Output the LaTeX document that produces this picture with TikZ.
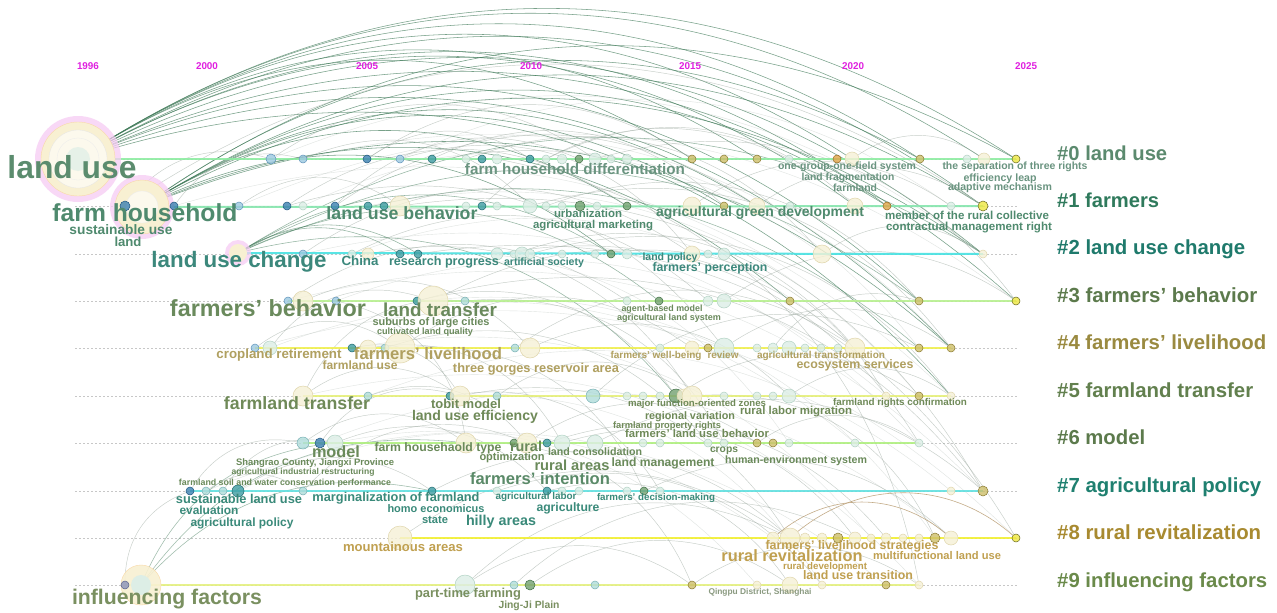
\documentclass[tikz,border=0pt]{standalone}
\usepackage{fontspec}
\setmainfont{Liberation Sans}
\usepackage{graphicx}
\pgfdeclarelayer{bg}
\pgfdeclarelayer{arcs}
\pgfdeclarelayer{rows}
\pgfsetlayers{bg,arcs,rows,main}
\newcommand{\tw}[2]{\resizebox{#1pt}{!}{\vphantom{Ag}#2}}
% dot colours
\definecolor{fLB}{HTML}{9CC8E0}\definecolor{dLB}{HTML}{5E92BA}
\definecolor{fB}{HTML}{3A80B0}\definecolor{dB}{HTML}{1F5680}
\definecolor{fT}{HTML}{3E9CA2}\definecolor{dT}{HTML}{1E6A70}
\definecolor{fLT}{HTML}{B0DCDA}\definecolor{dLT}{HTML}{78B0B4}
\definecolor{fL}{HTML}{DDEEE6}\definecolor{dL}{HTML}{B2D2C4}
\definecolor{fY}{HTML}{F6F1D6}\definecolor{dY}{HTML}{E0D6AC}
\definecolor{fO}{HTML}{CDBE6A}\definecolor{dO}{HTML}{8A7A30}
\definecolor{fG}{HTML}{72A070}\definecolor{dG}{HTML}{3E6E44}
\definecolor{fE}{HTML}{EEE640}\definecolor{dE}{HTML}{6A6A20}
\definecolor{fR}{HTML}{E0A448}\definecolor{dR}{HTML}{9A6A22}
\definecolor{fGB}{HTML}{8890B8}\definecolor{dGB}{HTML}{58608A}
% row line colours
\definecolor{l0}{HTML}{8EEDA2}\definecolor{l1}{HTML}{86E6AE}
\definecolor{l2}{HTML}{46E2E2}\definecolor{l3}{HTML}{B8F090}
\definecolor{l4}{HTML}{F0F050}\definecolor{l5}{HTML}{E6F07A}
\definecolor{l6}{HTML}{B0F080}\definecolor{l7}{HTML}{62E0E0}
\definecolor{l8}{HTML}{F2F032}\definecolor{l9}{HTML}{E4F080}
% cluster label colours
\definecolor{c0}{HTML}{5B8A6E}\definecolor{c1}{HTML}{2F7A5C}
\definecolor{c2}{HTML}{1F7A6C}\definecolor{c3}{HTML}{5C7A4C}
\definecolor{c4}{HTML}{9A8A40}\definecolor{c5}{HTML}{62804E}
\definecolor{c6}{HTML}{5C7A4C}\definecolor{c7}{HTML}{1F8070}
\definecolor{c8}{HTML}{A88A30}\definecolor{c9}{HTML}{6A8A4A}
% text colours
\definecolor{t0}{HTML}{6A9480}\definecolor{t0b}{HTML}{5B8C6E}
\definecolor{t1}{HTML}{4F8A6E}\definecolor{t2}{HTML}{3C887C}
\definecolor{t3}{HTML}{6A8A5C}\definecolor{t4}{HTML}{B0A060}
\definecolor{t5}{HTML}{6F8A58}\definecolor{t6}{HTML}{6A8A5A}
\definecolor{t7}{HTML}{3A8A7A}\definecolor{t7b}{HTML}{5A8A68}
\definecolor{t8}{HTML}{C0A050}\definecolor{t9}{HTML}{7A9060}
\definecolor{t9b}{HTML}{8A9A80}
\definecolor{yr}{HTML}{E020E0}
\definecolor{pinkr}{HTML}{F6CCF4}\definecolor{yelb}{HTML}{F8F0D2}
\definecolor{arcg}{HTML}{98A69C}\definecolor{arcd}{HTML}{3F7A58}
\definecolor{arcb}{HTML}{B09060}
\begin{document}
\begin{tikzpicture}[x=1pt,y=-1pt,
  dot/.style={circle,inner sep=0pt,line width=0.5pt,fill opacity=0.8},
  lbl/.style={inner sep=0pt,font=\bfseries},
  clbl/.style={inner sep=0pt,anchor=west,font=\bfseries},
  ylbl/.style={inner sep=0pt,font=\bfseries,text=yr},
  garc/.style={draw=arcg,line width=0.45pt,opacity=0.55},
  farc/.style={draw=arcg,line width=0.4pt,opacity=0.3},
  darc/.style={draw=arcd,line width=0.55pt,opacity=0.7},
  barc/.style={draw=arcb,line width=0.6pt,opacity=0.75},
  rowline/.style={line width=2pt,opacity=0.9},
  dashrow/.style={draw=black!22,line width=0.4pt,dash pattern=on 2pt off 2pt}]
\useasboundingbox (0,0) rectangle (1277,613);
\clip (0,0) rectangle (1277,613);
\begin{pgfonlayer}{bg}
\fill[white] (0,0) rectangle (1277,613);
\end{pgfonlayer}

% ---------- big bubbles ----------
\node[circle,inner sep=0,minimum size=86,fill=pinkr,fill opacity=0.75] (bubLU) at (78,159) {};
\node[circle,inner sep=0,minimum size=74,fill=yelb,draw=yelb!80!orange,line width=0.4pt] (bubLU2) at (78,159) {};
\node[circle,inner sep=0,minimum size=58,fill=white!60!yelb,draw=black!10,line width=0.3pt] (bubLU3) at (78,159) {};
\node[circle,inner sep=0,minimum size=42,draw=black!8,line width=0.3pt] (bubLU4) at (78,159) {};
\node[circle,inner sep=0,minimum size=24,fill=fL,fill opacity=0.7] (bubLU5) at (78,159) {};
\coordinate (lu) at (78,159);

\node[circle,inner sep=0,minimum size=64,fill=pinkr,fill opacity=0.75] (bubFH) at (142,207) {};
\node[circle,inner sep=0,minimum size=54,fill=yelb,draw=yelb!80!orange,line width=0.4pt] (bubFH2) at (142,207) {};
\node[circle,inner sep=0,minimum size=32,fill=white!60!yelb,draw=black!8,line width=0.3pt] (bubFH3) at (142,207) {};
\coordinate (fh) at (142,207);

\node[circle,inner sep=0,minimum size=26,fill=pinkr,fill opacity=0.75] (bubLUC) at (238,253) {};
\node[circle,inner sep=0,minimum size=18,fill=yelb] (bubLUC2) at (238,253) {};
\coordinate (luc) at (238,253);

\node[circle,inner sep=0,minimum size=40,fill=yelb,draw=yelb!80!orange,line width=0.4pt,fill opacity=0.9] (bubIF) at (141,585) {};
\node[circle,inner sep=0,minimum size=20,fill=fL] (bubIF2) at (141,585) {};
\coordinate (inf) at (141,585);

% ---------- dots ----------
\foreach \x/\rad/\s in {271/5/LB,303/4/LB,367/4/B,400/4/LB,432/4/T,466/4/L,482/4/T,497/5/L,530/4/T,546/4/L,562/5/L,579/4/G,595/6/L,611/4/L,627/5/L,692/4/O,724/4/O,757/4/O,789/4/L,837/4/R,852/7/Y,920/4/O,967/4/L,984/6/Y,1016/4/E}
  \node[dot,fill=f\s,draw=d\s,minimum size=2*\rad] (r0x\x) at (\x,159) {};
\foreach \x/\rad/\s in {125/5/B,174/4/B,239/4/LB,287/4/B,303/4/L,335/4/B,368/4/T,384/4/T,400/10/Y,466/4/L,482/4/T,497/4/L,530/7/L,546/4/L,562/4/L,580/5/G,597/4/L,627/4/G,692/9/Y,724/4/O,757/8/Y,790/4/L,855/8/Y,887/4/R,951/4/L,983/5/E}
  \node[dot,fill=f\s,draw=d\s,minimum size=2*\rad] (r1x\x) at (\x,206) {};
\foreach \x/\rad/\s in {303/4/LB,352/4/L,368/6/Y,400/4/T,418/4/T,497/6/L,514/4/L,522/7/L,530/5/L,562/4/L,595/4/L,611/4/G,627/5/L,692/8/Y,708/4/L,724/6/L,822/9/Y,983/4/Y}
  \node[dot,fill=f\s,draw=d\s,minimum size=2*\rad] (r2x\x) at (\x,254) {};
\foreach \x/\rad/\s in {288/4/LB,303/10/Y,336/4/LB,417/4/T,433/15/Y,465/4/LT,627/4/L,659/4/G,708/5/L,724/7/L,790/4/O,919/4/O,1016/4/E}
  \node[dot,fill=f\s,draw=d\s,minimum size=2*\rad] (r3x\x) at (\x,301) {};
\foreach \x/\rad/\s in {255/4/LB,270/7/L,352/4/T,368/8/Y,385/4/LT,400/15/Y,515/4/LT,530/10/Y,660/4/L,692/7/Y,708/4/O,724/10/L,757/4/L,773/5/L,789/7/L,805/4/L,821/4/L,838/4/L,855/10/Y,919/4/O,951/4/O}
  \node[dot,fill=f\s,draw=d\s,minimum size=2*\rad] (r4x\x) at (\x,348) {};
\foreach \x/\rad/\s in {303/10/Y,368/4/LT,450/4/T,460/10/Y,497/4/LT,593/7/LT,627/4/L,643/4/L,660/4/L,676/7/G,684/7/Y,692/10/Y,724/4/L,757/4/L,773/4/L,789/7/L,886/4/Y,919/4/O,951/4/Y}
  \node[dot,fill=f\s,draw=d\s,minimum size=2*\rad] (r5x\x) at (\x,396) {};
\foreach \x/\rad/\s in {303/6/LT,320/5/B,335/8/L,466/10/Y,514/4/G,527/10/Y,547/4/T,562/8/L,595/8/L,643/4/L,660/4/L,708/4/L,724/4/L,757/4/O,773/4/O,789/4/L,855/4/L,919/4/L}
  \node[dot,fill=f\s,draw=d\s,minimum size=2*\rad] (r6x\x) at (\x,443) {};
\foreach \x/\rad/\s in {190/4/B,206/4/LT,223/4/LT,238/6/T,303/4/LT,432/4/T,497/4/L,547/4/T,562/4/L,579/4/L,627/4/L,644/4/G,660/4/L,951/4/Y,983/5/O}
  \node[dot,fill=f\s,draw=d\s,minimum size=2*\rad] (r7x\x) at (\x,491) {};
\foreach \x/\rad/\s in {400/12/Y,773/6/Y,790/10/Y,805/5/Y,822/5/Y,838/5/O,855/6/Y,871/4/Y,886/5/Y,903/4/Y,919/4/Y,935/5/O,951/7/Y,1016/4/E}
  \node[dot,fill=f\s,draw=d\s,minimum size=2*\rad] (r8x\x) at (\x,538) {};
\foreach \x/\rad/\s in {125/4/GB,465/10/L,514/4/LT,530/5/G,595/4/LT,692/4/O,757/4/Y,790/8/Y,822/4/Y,886/4/O,919/4/Y}
  \node[dot,fill=f\s,draw=d\s,minimum size=2*\rad] (r9x\x) at (\x,585) {};

% ---------- dashed guides ----------
\begin{pgfonlayer}{bg}
\foreach \yy [count=\i from 0] in {159,206,254,301,348,396,443,491,538,585} {
  \coordinate (dsA\i) at (75,\yy);
  \coordinate (dsB\i) at (1018,\yy);
  \draw[dashrow] (dsA\i) -- (dsB\i);
}
\end{pgfonlayer}

% ---------- row lines ----------
\begin{pgfonlayer}{rows}
\draw[rowline,draw=l0] (lu) -- (r0x1016.center);
\draw[rowline,draw=l1] (fh) -- (r1x983.center);
\draw[rowline,draw=l2] (luc) -- (r2x983.center);
\draw[rowline,draw=l3] (r3x288.center) -- (r3x1016.center);
\draw[rowline,draw=l4] (r4x255.center) -- (r4x951.center);
\draw[rowline,draw=l5] (r5x303.center) -- (r5x951.center);
\draw[rowline,draw=l6] (r6x303.center) -- (r6x919.center);
\draw[rowline,draw=l7] (r7x190.center) -- (r7x983.center);
\draw[rowline,draw=l8] (r8x400.center) -- (r8x1016.center);
\draw[rowline,draw=l9] (r9x125.center) -- (r9x919.center);
\end{pgfonlayer}

% ---------- arcs ----------
\begin{pgfonlayer}{arcs}
\foreach \b in {r0x1016,r0x984,r0x920,r0x852,r1x983,r1x887,r1x855,r3x1016,r2x983,r4x951,r0x757,r0x692,r5x951,r3x919}
  \draw[darc] (lu) to[bend left=33] (\b);
\foreach \b in {r1x627,r1x724,r1x887,r1x983,r0x1016,r2x611,r4x951,r3x790,r2x983,r0x920,r1x757}
  \draw[darc] (fh) to[bend left=32] (\b);
\foreach \b in {r2x400,r2x418,r2x611,r3x659,r5x676,r2x983,r3x919,r4x919}
  \draw[darc,opacity=0.55] (luc) to[bend left=32] (\b);
\foreach \b in {r6x466,r7x432,r6x335}
  \draw[darc,opacity=0.5] (inf) to[bend left=30] (\b);
\foreach \a/\b in {r1x125/r0x271,r1x174/r0x303,r1x239/r1x400,r0x271/r0x595,r0x303/r1x530,r0x367/r0x692,r0x400/r2x692,r1x287/r4x724,r1x335/r1x757,r2x303/r2x692,r2x352/r3x708,r2x368/r5x692,r3x288/r3x627,r3x303/r4x530,r3x336/r6x466,r3x417/r5x676,r3x433/r4x855,r3x465/r6x724,r4x255/r4x400,r4x270/r3x433,r4x352/r5x460,r4x368/r6x562,r4x400/r4x692,r4x400/r7x644,r4x515/r4x855,r4x530/r5x789,r5x303/r5x460,r5x303/r3x465,r5x368/r6x527,r5x460/r8x790,r5x497/r5x692,r5x593/r4x919,r5x676/r5x919,r5x692/r8x935,r6x303/r6x466,r6x320/r5x460,r6x335/r7x547,r6x466/r9x692,r6x527/r6x757,r6x562/r8x855,r6x595/r7x983,r7x190/r6x303,r7x238/r7x432,r7x303/r6x527,r7x432/r8x790,r7x547/r9x790,r7x644/r8x951,r8x400/r8x790,r9x465/r8x790,r9x465/r9x692,r9x514/r8x855,r9x530/r9x790,r9x692/r9x919,r6x757/r6x919,r5x789/r5x951,r4x724/r4x951,r1x757/r1x983,r0x852/r0x984,r1x692/r1x951,r2x822/r2x983,r3x724/r3x1016,r4x773/r3x919,r0x595/r3x1016,r1x530/r4x951,r2x530/r5x951,r1x400/r7x983,r2x497/r6x919,r0x497/r9x919,r2x418/r8x1016,r3x417/r7x983,r1x125/r1x983,r0x466/r2x822,r0x546/r1x855,r1x546/r3x919,r2x514/r4x855,r2x595/r5x886,r4x385/r6x708,r5x450/r7x660,r6x547/r8x886,r7x497/r9x822,r7x206/r7x303,r7x223/r6x335,r9x125/r7x190,r1x287/r1x627,r1x335/r0x579,r0x367/r0x530,r0x432/r1x724,r1x482/r0x789}
  \draw[garc] (\a) to[bend left=34] (\b);
\foreach \a/\b in {r0x271/r2x983,r0x303/r4x951,r1x174/r5x951,r1x239/r3x1016,r2x303/r6x919,r3x288/r7x983,r4x255/r8x1016,r5x303/r9x919,r0x400/r1x951,r1x303/r2x822,r2x352/r4x855,r3x336/r5x886,r4x270/r6x855,r5x368/r7x951,r6x320/r8x951,r7x206/r9x886,r0x432/r4x919,r1x368/r5x919,r2x400/r6x789,r3x417/r8x935,r4x352/r8x871,r5x450/r9x822,r6x335/r9x757,r7x238/r8x773}
  \draw[farc] (\a) to[bend left=30] (\b);
\foreach \a/\b in {r8x790/r8x1016,r8x773/r8x951}
  \draw[barc] (\a) to[bend left=40] (\b);
\end{pgfonlayer}

% ---------- year labels ----------
\foreach \x/\yl [count=\i] in {88/1996,207/2000,367/2005,531/2010,690/2015,853/2020,1026/2025}
  \node[ylbl] (yr\i) at (\x,67) {\tw{22}{\yl}};

% ---------- term labels ----------
\foreach \x/\y/\ww/\tx/\cl [count=\i] in {
 72/170/129/{land use}/t0b,
 575/171/220/{farm household differentiation}/t0,
 847/167/138/{one-group-one-field system}/t0,
 848/178/93/{land fragmentation}/t0,
 855/189/44/{farmland}/t0,
 1015/167/145/{the separation of three rights}/t0,
 1000/179/73/{efficiency leap}/t0,
 1000/188/104/{adaptive mechanism}/t0,
 145/215/185/{farm household}/t1,
 121/231/103/{sustainable use}/t1,
 128/243/27/{land}/t1,
 402/215/151/{land use behavior}/t1,
 588/215/68/{urbanization}/t1,
 593/226/120/{agricultural marketing}/t1,
 760/213/208/{agricultural green development}/t1,
 967/217/164/{member of the rural collective}/t1,
 969/228/166/{contractual management right}/t1,
 239/262/175/{land use change}/t2,
 360/262/37/{China}/t2,
 444/262/110/{research progress}/t2,
 544/263/80/{artificial society}/t2,
 670/258/55/{land policy}/t2,
 710/268/115/{farmers' perception}/t2,
 268/311/196/{farmers' behavior}/t3,
 440/312/114/{land transfer}/t3,
 431/323/117/{suburbs of large cities}/t3,
 425/332/96/{cultivated land quality}/t3,
 662/309/81/{agent-based model}/t3,
 669/318/104/{agricultural land system}/t3,
 279/355/125/{cropland retirement}/t4,
 428/355/148/{farmers' livelihood}/t4,
 360/366/75/{farmland use}/t4,
 536/369/166/{three gorges reservoir area}/t4,
 656/356/91/{farmers' well-being}/t4,
 723/356/31/{review}/t4,
 821/356/128/{agricultural transformation}/t4,
 855/365/117/{ecosystem services}/t4,
 297/405/146/{farmland transfer}/t5,
 466/405/70/{tobit model}/t5,
 475/417/126/{land use efficiency}/t5,
 697/404/138/{major function-oriented zones}/t5,
 690/417/90/{regional variation}/t5,
 796/412/112/{rural labor migration}/t5,
 667/426/108/{farmland property rights}/t5,
 697/435/144/{farmers' land use behavior}/t5,
 900/403/134/{farmland rights confirmation}/t5,
 336/453/48/{model}/t6,
 438/448/127/{farm househaold type}/t6,
 526/448/32/{rural}/t6,
 512/458/65/{optimization}/t6,
 595/453/94/{land consolidation}/t6,
 572/467/75/{rural areas}/t6,
 663/463/103/{land management}/t6,
 724/450/28/{crops}/t6,
 796/461/142/{human-environment system}/t6,
 315/463/158/{Shangrao County, Jiangxi Province}/t6,
 303/472/143/{agricultural industrial restructuring}/t6,
 285/483/212/{farmland soil and water conservation performance}/t6,
 540/480/140/{farmers' intention}/t7b,
 239/500/126/{sustainable land use}/t7,
 209/511/59/{evaluation}/t7,
 242/523/103/{agricultural policy}/t7,
 396/498/167/{marginalization of farmland}/t7,
 436/510/97/{homo economicus}/t7,
 435/521/26/{state}/t7,
 501/522/70/{hilly areas}/t7,
 536/497/81/{agricultural labor}/t7,
 568/508/63/{agriculture}/t7,
 656/498/118/{farmers' decision-making}/t7,
 403/548/120/{mountainous areas}/t8,
 852/546/173/{farmers' livelihood strategies}/t8,
 792/557/141/{rural revitalization}/t8,
 937/557/128/{multifunctional land use}/t8,
 825/567/84/{rural development}/t8,
 858/576/110/{land use transition}/t8,
 167/599/190/{influencing factors}/t9,
 468/594/106/{part-time farming}/t9,
 529/606/61/{Jing-Ji Plain}/t9,
 760/592/103/{Qingpu District, Shanghai}/t9b}
  \node[lbl,text=\cl] (lab\i) at (\x,\y) {\tw{\ww}{\tx}};

% ---------- cluster labels ----------
\foreach \y/\ww/\tx/\cl [count=\i from 0] in {
 155/110/{\#0 land use}/c0,
 202/102/{\#1 farmers}/c1,
 249/188/{\#2 land use change}/c2,
 297/200/{\#3 farmers' behavior}/c3,
 344/209/{\#4 farmers' livelihood}/c4,
 392/196/{\#5 farmland transfer}/c5,
 439/88/{\#6 model}/c6,
 487/204/{\#7 agricultural policy}/c7,
 534/204/{\#8 rural revitalization}/c8,
 582/210/{\#9 influencing factors}/c9}
  \node[clbl,text=\cl] (cl\i) at (1057,\y) {\tw{\ww}{\tx}};
\end{tikzpicture}
\end{document}
